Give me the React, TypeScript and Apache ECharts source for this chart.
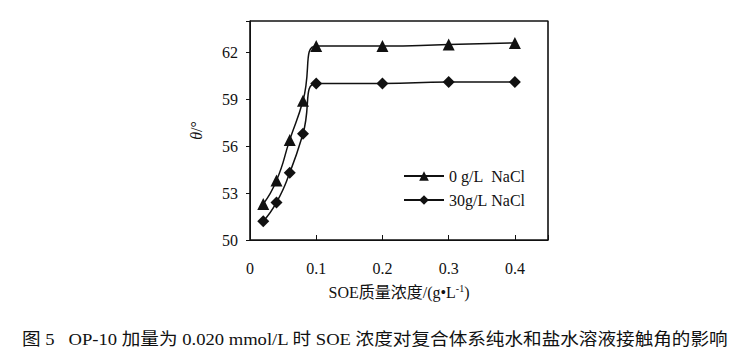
import React, { useEffect, useRef } from "react";
import * as echarts from "echarts";

const xValues = [0.02, 0.04, 0.06, 0.08, 0.1, 0.2, 0.3, 0.4];
const seriesNames = ["0\u00a0g/L\u00a0\u00a0NaCl", "30g/L\u00a0NaCl"];
const noSalt = [52.3, 53.8, 56.4, 58.9, 62.4, 62.4, 62.5, 62.6];
const salt30 = [51.2, 52.4, 54.3, 56.8, 60.0, 60.0, 60.1, 60.1];
const yTicks = [50, 53, 56, 59, 62];
const xTicks = [0, 0.1, 0.2, 0.3, 0.4];
const caption = "图 5\u00a0\u00a0\u00a0OP-10 加量为 0.020 mmol/L 时 SOE 浓度对复合体系纯水和盐水溶液接触角的影响";

const FONT = "'Liberation Serif', 'Times New Roman', 'Noto Sans CJK SC', serif";
const GRID = { left: 250, top: 21, right: 187, bottom: 121 };

export default function App() {
  const ref = useRef<HTMLDivElement>(null);
  useEffect(() => {
    const chart = echarts.init(ref.current!, null, { renderer: "svg" });
    chart.setOption({
      animation: false,
      backgroundColor: "#fff",
      textStyle: { fontFamily: FONT, color: "#111" },
      grid: { ...GRID, show: true, borderColor: "#111", borderWidth: 1, backgroundColor: "rgba(0,0,0,0)" },
      legend: {
        orient: "vertical", left: 398, top: 163, itemGap: 8,
        itemWidth: 40, itemHeight: 12,
        textStyle: { fontFamily: FONT, fontSize: 16, color: "#111" },
        data: seriesNames,
      },
      xAxis: {
        type: "value", min: 0, max: 0.45, interval: 0.1,
        axisLine: { show: true, onZero: false, lineStyle: { color: "#111" } },
        axisTick: { show: true, inside: true, length: 5, lineStyle: { color: "#111" } },
        splitLine: { show: false },
        axisLabel: {
          fontFamily: FONT, fontSize: 16, color: "#111", margin: 20,
          formatter: (v: number) => (xTicks.some((t) => Math.abs(t - v) < 1e-9) ? String(Math.round(v * 10) / 10) : ""),
        },
        name: "SOE质量浓度/(g•L{sup|-1})",
        nameLocation: "middle", nameGap: 43,
        nameTextStyle: {
          fontFamily: FONT, fontSize: 16, color: "#111",
          rich: { sup: { fontSize: 10, padding: [0, 0, 9, 0], fontFamily: FONT, color: "#111" } },
        },
      },
      yAxis: {
        type: "value", min: 50, max: 64, interval: 3,
        axisLine: { show: true, onZero: false, lineStyle: { color: "#111" } },
        axisTick: { show: true, inside: false, length: 4, lineStyle: { color: "#111" } },
        splitLine: { show: false },
        axisLabel: {
          fontFamily: FONT, fontSize: 16, color: "#111", margin: 12,
          formatter: (v: number) => (yTicks.includes(Math.round(v)) && Math.abs(v - Math.round(v)) < 1e-9 ? String(v) : ""),
        },
        name: "{i|θ}/°",
        nameLocation: "middle", nameGap: 46,
        nameTextStyle: {
          fontFamily: FONT, fontSize: 16, color: "#111",
          rich: { i: { fontStyle: "italic", fontFamily: FONT, fontSize: 16, color: "#111" } },
        },
      },
      series: [
        {
          name: seriesNames[0], type: "line", smooth: 0.55,
          data: xValues.map((x, i) => [x, noSalt[i]]),
          symbol: "triangle", symbolSize: 12,
          lineStyle: { color: "#111", width: 1.5 },
          itemStyle: { color: "#111" },
        },
        {
          name: seriesNames[1], type: "line", smooth: 0.55,
          data: xValues.map((x, i) => [x, salt30[i]]),
          symbol: "diamond", symbolSize: 12,
          lineStyle: { color: "#111", width: 1.5 },
          itemStyle: { color: "#111" },
        },
      ],
      graphic: [
        {
          type: "rect", silent: true, z: 0,
          shape: { x: GRID.left, y: GRID.top, width: 735 - GRID.left - GRID.right, height: 361 - GRID.top - GRID.bottom },
          style: { fill: "none", stroke: "#111", lineWidth: 1.2 },
        },
        {
          type: "text", x: 22, y: 331, scaleX: 1.095,
          style: { text: caption, fontFamily: FONT, fontSize: 17, fill: "#111" },
        },
      ],
    });
    return () => chart.dispose();
  }, []);
  return <div ref={ref} style={{ position: "absolute", left: 0, top: 0, width: 735, height: 361 }} />;
}
